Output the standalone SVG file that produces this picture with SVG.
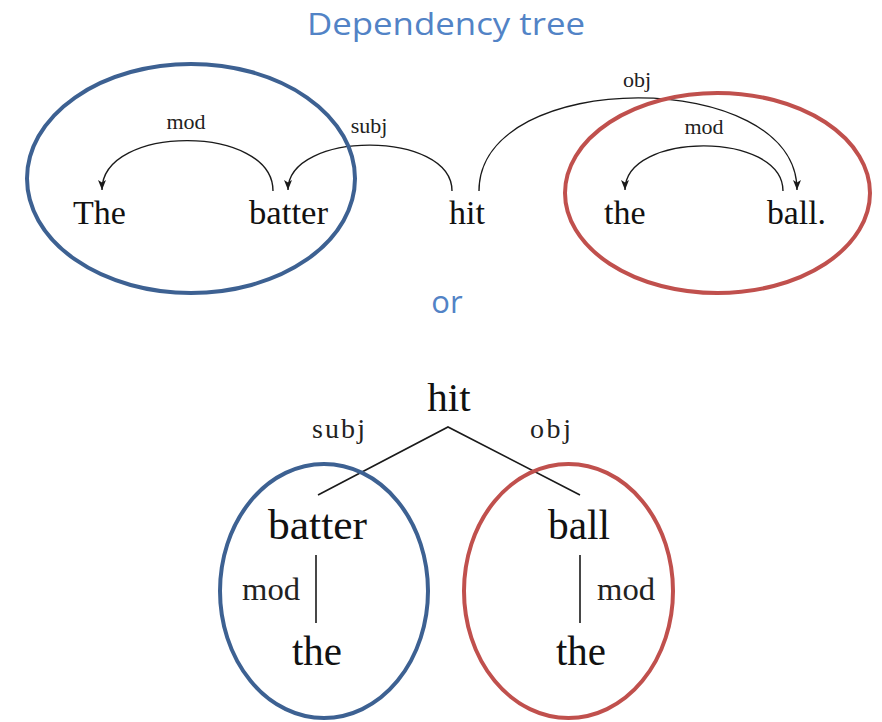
<svg xmlns="http://www.w3.org/2000/svg" width="882" height="722" viewBox="0 0 882 722">
  <defs>
    <marker id="arrow" viewBox="0 0 10 8" refX="10" refY="4" markerWidth="10" markerHeight="8" markerUnits="userSpaceOnUse" orient="auto">
      <path d="M0,0 L10,4 L0,8 L2.5,4 Z" fill="#1a1a1a"/>
    </marker>
  </defs>
  <style>
    .heading { font-family: "Open Sans", "Liberation Sans", sans-serif; fill: #5283c6; text-anchor: middle; }
    .word { font-family: "Liberation Serif", "Times New Roman", serif; fill: #111; }
    .lbl { font-family: "Liberation Serif", "Times New Roman", serif; fill: #222; }
    .arc { fill: none; stroke: #1a1a1a; stroke-width: 1.4; marker-end: url(#arrow); }
    .edge { fill: none; stroke: #1a1a1a; stroke-width: 1.6; }
    .ring-blue { fill: none; stroke: #3d6192; stroke-width: 4; }
    .ring-red { fill: none; stroke: #c0504d; stroke-width: 4; }
  </style>

  <rect width="882" height="722" fill="#ffffff"/>

  <!-- headings -->
  <text id="title" class="heading" x="446" y="35" font-size="31" textLength="278" lengthAdjust="spacingAndGlyphs">Dependency tree</text>
  <text id="or" class="heading" x="447" y="313" font-size="31">or</text>

  <!-- top: linear dependency arcs -->
  <g id="arcs-top">
    <path class="arc" d="M273,191 C273,124 102,124 102,190"/>
    <path class="arc" d="M452,191 C452,130 288,130 288,190"/>
    <path class="arc" d="M479,191 C479,67 797,67 797,190"/>
    <path class="arc" d="M783,191 C783,131 625,131 625,190"/>
    <text class="lbl" x="186" y="129" font-size="22" text-anchor="middle">mod</text>
    <text class="lbl" x="369" y="133" font-size="22" text-anchor="middle">subj</text>
    <text class="lbl" x="637" y="87" font-size="22" text-anchor="middle">obj</text>
    <text class="lbl" x="704" y="134" font-size="22" text-anchor="middle">mod</text>
  </g>

  <g id="w-The"><text class="word" x="73" y="224" font-size="34">The</text></g>
  <g id="w-batter"><text class="word" x="249" y="224" font-size="34" textLength="79" lengthAdjust="spacingAndGlyphs">batter</text></g>
  <g id="w-hit"><text class="word" x="449" y="224" font-size="34">hit</text></g>
  <g id="w-the"><text class="word" x="604" y="224" font-size="34">the</text></g>
  <g id="w-ball"><text class="word" x="767" y="224" font-size="34" textLength="59" lengthAdjust="spacingAndGlyphs">ball.</text></g>

  <g id="group-subj-top"><ellipse class="ring-blue" cx="191" cy="178.5" rx="164" ry="114.5"/></g>
  <g id="group-obj-top"><ellipse class="ring-red" cx="717.5" cy="193" rx="152.5" ry="100"/></g>

  <!-- bottom: tree form -->
  <g id="edges-tree">
    <path class="edge" d="M318,495 L448,427 L580,495"/>
    <path class="edge" d="M316,555 L316,623"/>
    <path class="edge" d="M580,555 L580,623"/>
    <text class="lbl" x="312" y="438" font-size="28" textLength="53" lengthAdjust="spacing">subj</text>
    <text class="lbl" x="530" y="438" font-size="28" textLength="41" lengthAdjust="spacing">obj</text>
    <text class="lbl" x="242" y="600" font-size="32" textLength="58" lengthAdjust="spacingAndGlyphs">mod</text>
    <text class="lbl" x="597" y="600" font-size="32" textLength="58" lengthAdjust="spacingAndGlyphs">mod</text>
  </g>

  <g id="t-hit"><text class="word" x="449" y="411" font-size="41" text-anchor="middle">hit</text></g>
  <g id="t-batter"><text class="word" x="268" y="539" font-size="42" textLength="99" lengthAdjust="spacingAndGlyphs">batter</text></g>
  <g id="t-ball"><text class="word" x="548" y="539" font-size="42" textLength="62" lengthAdjust="spacingAndGlyphs">ball</text></g>
  <g id="t-the-left"><text class="word" x="292" y="665" font-size="42" textLength="50" lengthAdjust="spacingAndGlyphs">the</text></g>
  <g id="t-the-right"><text class="word" x="556" y="665" font-size="42" textLength="50" lengthAdjust="spacingAndGlyphs">the</text></g>

  <g id="group-subj-tree"><ellipse class="ring-blue" cx="324" cy="591" rx="104" ry="127"/></g>
  <g id="group-obj-tree"><ellipse class="ring-red" cx="568.5" cy="591" rx="104.5" ry="127"/></g>
</svg>
